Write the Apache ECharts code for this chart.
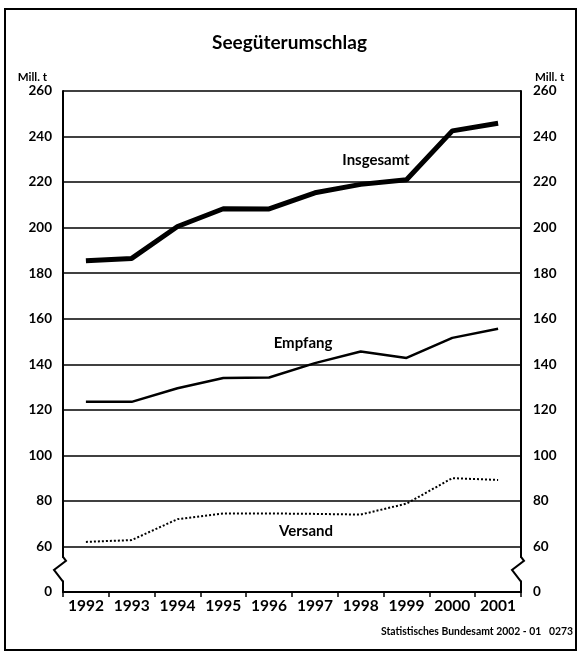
<!DOCTYPE html>
<html>
<head>
<meta charset="utf-8">
<script src="https://cdn.jsdelivr.net/npm/echarts@6/dist/echarts.min.js"></script>
<style>
    html, body { margin: 0; padding: 0; background: #fff; }
    #chart { width: 579px; height: 657px; }
</style>
</head>
<body>
<div id="chart"></div>
<script>
// Jahre
const years = ["1992", "1993", "1994", "1995", "1996", "1997", "1998", "1999", "2000", "2001"];
// Mill. t
const insgesamt = [185.5, 186.5, 200.5, 208.3, 208.2, 215.3, 219, 221, 242.5, 245.8];
const empfang = [123.5, 123.5, 129.5, 134, 134.2, 140.5, 145.6, 142.8, 151.6, 155.6];
const versand = [62, 62.8, 72, 74.5, 74.5, 74.3, 74, 78.8, 90, 89.2];
// Achse: 0 wird unten (Bruch) an Stelle 40 gezeichnet
const yTicks = [40, 60, 80, 100, 120, 140, 160, 180, 200, 220, 240, 260];

const FONT = "Lato";
const gridLeft = 63;
const gridRight = 58;
const W = 579;

const yAxisBase = {
    type: "value",
    min: 40,
    max: 260,
    interval: 20,
    name: "Mill. t",
    nameLocation: "end",
    nameGap: 8,
    axisLine: { show: true, lineStyle: { color: "#000", width: 2 } },
    axisTick: { show: false },
    splitLine: { show: true, lineStyle: { color: "#000", width: 1.6 } },
    axisLabel: {
        color: "#000",
        fontFamily: FONT,
        fontWeight: "bold",
        fontSize: 13.5,
        formatter: (v) => (v === yTicks[0] ? "0" : String(v)),
    },
};

const chart = echarts.init(document.getElementById("chart"));

const option = {
    backgroundColor: "#fff",
    animation: false,
    title: {
        text: "Seegüterumschlag",
        left: "center",
        top: 28,
        textStyle: { fontFamily: FONT, fontWeight: "bold", fontSize: 19, color: "#000" },
    },
    grid: { left: gridLeft, right: gridRight, top: 91, bottom: 65 },
    xAxis: {
        type: "category",
        data: years,
        boundaryGap: true,
        axisLine: { lineStyle: { color: "#000", width: 2 } },
        axisTick: { show: true, alignWithLabel: false, interval: 0, length: 5, lineStyle: { color: "#000", width: 1.5 } },
        axisLabel: { color: "#000", fontFamily: FONT, fontWeight: "bold", fontSize: 15.5, margin: 6, interval: 0, hideOverlap: false },
    },
    yAxis: [
        Object.assign({}, yAxisBase, {
            position: "left",
            nameTextStyle: { fontFamily: FONT, fontWeight: "bold", fontSize: 11.5, color: "#000", align: "right", padding: [0, 16, 0, 0] },
            axisLabel: Object.assign({}, yAxisBase.axisLabel, { margin: 11 }),
        }),
        Object.assign({}, yAxisBase, {
            position: "right",
            splitLine: { show: false },
            nameTextStyle: { fontFamily: FONT, fontWeight: "bold", fontSize: 11.5, color: "#000", align: "left", padding: [0, 0, 0, 14] },
            axisLabel: Object.assign({}, yAxisBase.axisLabel, { margin: 12 }),
        }),
    ],
    series: [
        {
            name: "Insgesamt",
            type: "line",
            data: insgesamt,
            symbol: "none",
            lineStyle: { color: "#000", width: 5 },
        },
        {
            name: "Empfang",
            type: "line",
            data: empfang,
            symbol: "none",
            lineStyle: { color: "#000", width: 2.5 },
        },
        {
            name: "Versand",
            type: "line",
            data: versand,
            symbol: "none",
            lineStyle: { color: "#000", width: 2, type: "dotted" },
        },
    ],
};

chart.setOption(option);

// Achsenbruch + Beschriftungen
const yA = chart.convertToPixel({ yAxisIndex: 0 }, 55);
const yB = chart.convertToPixel({ yAxisIndex: 0 }, 45);
const xL = gridLeft;
const xR = W - gridRight;

function breakMark(x) {
    return [
        { type: "rect", shape: { x: x - 3, y: yA, width: 6, height: yB - yA }, style: { fill: "#fff" }, z: 100 },
        {
            type: "polyline",
            shape: { points: [[x, yA - 1], [x + 3, yA + 3], [x - 9, yA + 12], [x, yB + 1]] },
            style: { stroke: "#000", lineWidth: 2, fill: null },
            z: 101,
        },
    ];
}

const txt = (text, x, y, size, align) => ({
    type: "text",
    x: x,
    y: y,
    style: { text: text, fill: "#000", font: "bold " + size + "px " + FONT, textAlign: align || "center", textVerticalAlign: "middle" },
    z: 102,
});

chart.setOption({
    graphic: [
        { type: "rect", shape: { x: 5, y: 9, width: 571, height: 641 }, style: { fill: null, stroke: "#000", lineWidth: 2 }, z: 99 },
        ...breakMark(xL),
        ...breakMark(xR),
        txt("Insgesamt", 376, 160, 15),
        txt("Empfang", 303, 343, 15),
        txt("Versand", 306, 531, 15),
        txt("Statistisches Bundesamt 2002 - 01   0273", 573, 632, 10.4, "right"),
    ],
});
</script>
</body>
</html>
